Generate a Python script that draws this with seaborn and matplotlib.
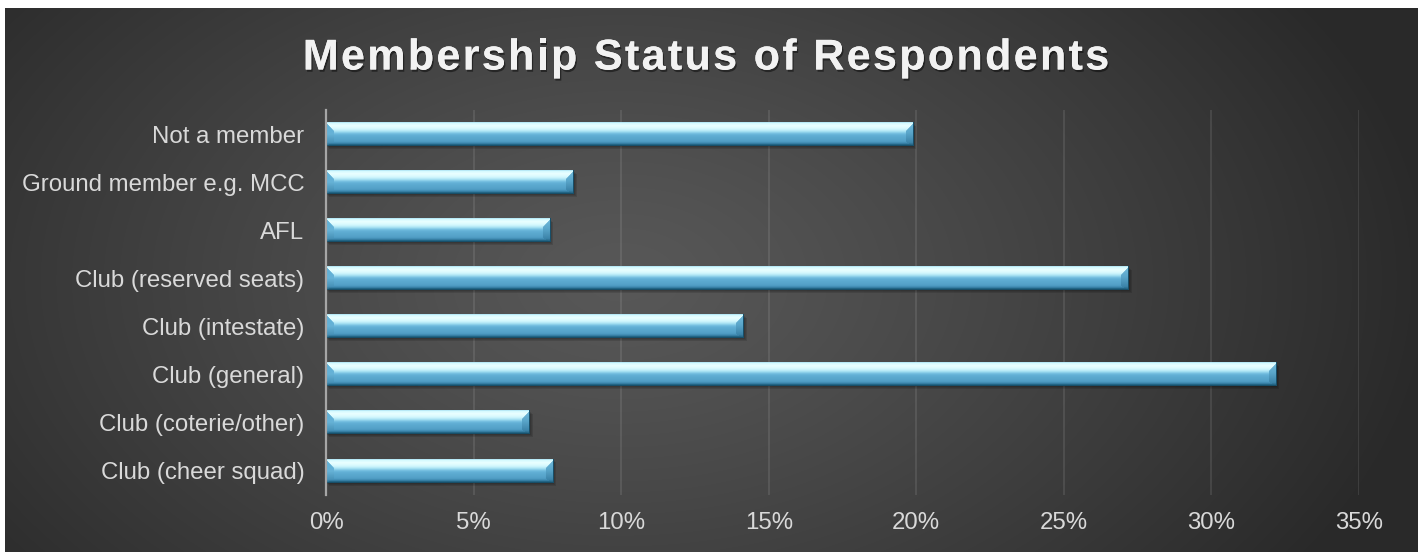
import numpy as np
import pandas as pd
import matplotlib
matplotlib.use("Agg")
import matplotlib.pyplot as plt
import matplotlib.patheffects as pe
import matplotlib.transforms as mtransforms
from matplotlib import font_manager
from matplotlib.colors import to_rgb
from matplotlib.patches import Rectangle
import seaborn as sns

# ---- data -------------------------------------------------------------
categories = [
    "Not a member",
    "Ground member e.g. MCC",
    "AFL",
    "Club (reserved seats)",
    "Club (intestate)",
    "Club (general)",
    "Club (coterie/other)",
    "Club (cheer squad)",
]
shares = [19.9, 8.4, 7.6, 27.2, 14.15, 32.2, 6.9, 7.7]
x_ticks = [0, 5, 10, 15, 20, 25, 30, 35]
x_tick_labels = ["0%", "5%", "10%", "15%", "20%", "25%", "30%", "35%"]
title = "Membership Status of Respondents"

df = pd.DataFrame({"status": categories, "share": shares})

# ---- figure -----------------------------------------------------------
W, H, DPI = 1418, 552, 100
plt.rcParams["font.family"] = ["Liberation Sans", "DejaVu Sans"]
fig = plt.figure(figsize=(W / DPI, H / DPI), dpi=DPI)

# dark radial backdrop with a thin white margin on the top and left
bg = fig.add_axes([0, 0, 1, 1], zorder=-10)
bg.set_axis_off()
yy, xx = np.mgrid[0:H, 0:W]
d = np.sqrt(((xx - 620) / 820.0) ** 2 + ((yy - 280) / 520.0) ** 2)
d = np.clip(d, 0, 1)
level = 0x58 - (0x58 - 0x29) * (d ** 1.2)
img = np.repeat((level / 255.0)[:, :, None], 3, axis=2)
img[:8, :, :] = 1.0
img[:, :5, :] = 1.0
bg.imshow(img, extent=(0, 1, 0, 1), aspect="auto", interpolation="bilinear")
bg.set_xlim(0, 1)
bg.set_ylim(0, 1)

# plot area
left, right = 326 / W, 1359 / W
top, bottom = 1 - 110.5 / H, 1 - 495 / H
ax = fig.add_axes([left, bottom, right - left, top - bottom])
ax.set_facecolor("none")

sns.barplot(data=df, x="share", y="status", orient="h", color="#55a3c9",
            width=0.48, ax=ax, saturation=1, zorder=2)

ax.set_xlim(0, 35)
ax.set_ylim(len(categories) - 0.5, -0.5)
ax.set_xticks(x_ticks)
ax.set_xticklabels(x_tick_labels)
ax.set_xlabel("")
ax.set_ylabel("")
ax.tick_params(axis="both", length=0, colors="#d9d9d9", labelsize=17.3)
ax.tick_params(axis="x", pad=12.0)
ax.tick_params(axis="y", pad=15.5)
for s in ("top", "right", "bottom"):
    ax.spines[s].set_visible(False)
ax.spines["left"].set_color("#a6a6a6")
ax.spines["left"].set_linewidth(1.6)
ax.spines["left"].set_zorder(6)
ax.set_axisbelow(True)
ax.xaxis.grid(True, color="white", alpha=0.10, linewidth=1.3)
ax.yaxis.grid(False)


# ---- bevelled bar faces ----------------------------------------------
def ramp(stops, t):
    pos = np.array([s[0] for s in stops])
    cols = np.array([to_rgb(s[1]) for s in stops])
    out = np.empty(t.shape + (3,))
    for k in range(3):
        out[..., k] = np.interp(t, pos, cols[:, k])
    return out


face_stops = [
    (0.00, "#a6e0f2"), (0.06, "#d8fbff"), (0.16, "#eaffff"), (0.30, "#d2f7fd"),
    (0.40, "#a4e0f2"), (0.48, "#72bde0"), (0.56, "#60aed4"), (0.80, "#529fc6"),
    (0.88, "#3f89b0"), (0.93, "#246889"), (1.00, "#1a5470"),
]
left_stops = [(0.0, "#5fb0d6"), (0.5, "#66b2d6"), (0.85, "#4892b8"), (1.0, "#1d5a76")]
right_stops = [(0.0, "#74bcdc"), (0.45, "#5aa6ca"), (0.85, "#3c84aa"), (1.0, "#1a5470")]


def bar_image(wpx, hpx):
    r = (np.arange(hpx)[:, None] + 0.5) * np.ones((1, wpx))
    c = np.ones((hpx, 1)) * (np.arange(wpx)[None, :] + 0.5)
    t = r / hpx
    img = ramp(face_stops, t)
    bt, bb, bs = 9.0, 4.0, 8.0
    nt, nb = r / bt, (hpx - r) / bb
    nl, nr = c / bs, (wpx - c) / bs
    in_left = (nl < 1) & (nl < nt) & (nl < nb)
    in_right = (nr < 1) & (nr < nt) & (nr < nb)
    limg = ramp(left_stops, t)
    rimg = ramp(right_stops, t)
    img[in_left] = limg[in_left]
    img[in_right] = rimg[in_right]
    img[:, -1, :] = to_rgb("#184f69")
    img[-1, :, :] = to_rgb("#184f69")
    return img


for p in list(ax.patches):
    x0, y0, w, h = p.get_x(), p.get_y(), p.get_width(), p.get_height()
    (px0, py0) = ax.transData.transform((x0, y0))
    (px1, py1) = ax.transData.transform((x0 + w, y0 + h))
    wpx = max(int(round(abs(px1 - px0))), 4)
    hpx = max(int(round(abs(py1 - py0))), 4)
    # soft drop shadow to the lower right
    for k, a in enumerate((0.10, 0.10, 0.12)):
        sh = Rectangle((x0, y0), w, h, transform=mtransforms.offset_copy(
            ax.transData, fig=fig, x=1 + k, y=-(1 + k), units="dots"),
            facecolor="black", edgecolor="none", alpha=a, zorder=1.5)
        ax.add_patch(sh)
    ax.imshow(bar_image(wpx, hpx), extent=(x0, x0 + w, y0 + h, y0),
              origin="upper", aspect="auto", interpolation="bilinear", zorder=3)

ax.set_xlim(0, 35)
ax.set_ylim(len(categories) - 0.5, -0.5)

# ---- letter-spaced title ---------------------------------------------
title_size = 31.0
spacing_px = 2.35
fp = font_manager.FontProperties(family="Liberation Sans", weight="bold")
ft = font_manager.get_font(font_manager.findfont(fp))
ft.set_size(title_size, DPI)
adv = []
for ch in title:
    g = ft.load_char(ord(ch))
    adv.append(g.linearHoriAdvance / 65536.0)
total = sum(adv) + spacing_px * (len(title) - 1)
x = 706 - total / 2
base_y = 1 - 69.5 / H
for ch, a in zip(title, adv):
    if ch != " ":
        fig.text(x / W, base_y, ch, fontproperties=fp, fontsize=title_size,
                 color="#f2f2f2", ha="left", va="baseline",
                 path_effects=[pe.withSimplePatchShadow(offset=(1.0, -1.6),
                                                       shadow_rgbFace="black",
                                                       alpha=0.45),
                               pe.Normal()])
    x += a + spacing_px

fig.savefig("out.png", dpi=DPI)
